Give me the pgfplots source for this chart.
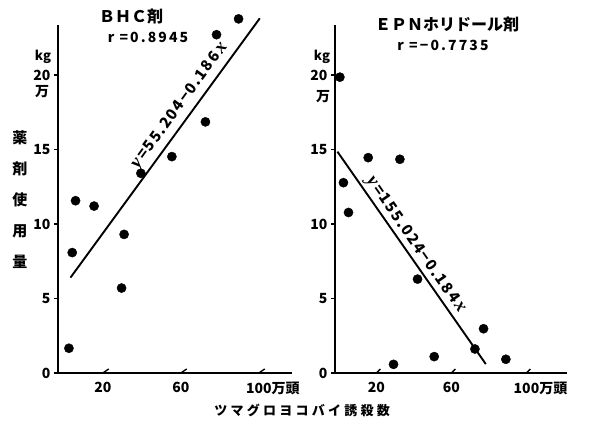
\documentclass[border=0pt]{standalone}
\usepackage{fontspec}
\setmainfont{Noto Sans CJK JP}
\newfontfamily\jpsp{Noto Sans CJK JP}[LetterSpace=25]
\newfontfamily\jpr{Noto Sans CJK JP}[LetterSpace=15]
\newfontfamily\jpl{Noto Sans CJK JP}[LetterSpace=10]
\newfontfamily\serit{Liberation Serif}
\newcommand{\vi}[1]{{\serit\bfseries\itshape\fontsize{19}{19}\selectfont #1}}
\usepackage{pgfplots}
\pgfplotsset{compat=1.18}

\pgfplotsset{
  panel/.style={
    scale only axis, anchor=south west, clip=false,
    axis x line=bottom, axis y line=left,
    axis line style={-, line width=2pt},
    ymin=0, ymax=23.35, height=348pt,
    xtick={20,60,100}, xticklabels={20,60,100\rlap{万頭}},
    ytick={0,5,10,15,20},
    tick align=outside, major tick length=4pt,
    tick style={line width=1.4pt, black},
    xtick style={draw=none},
    ticklabel style={font=\bfseries\fontsize{14}{14}\selectfont},
    x tick label style={yshift=-2pt},
    /pgf/number format/assume math mode=true,
  },
  dots/.style={only marks, mark=*, mark size=4.6pt, black},
  fit/.style={black, line width=1.9pt},
}
\tikzset{eq/.style={font=\jpl\bfseries\fontsize{15}{15}\selectfont, inner sep=0pt}}

\begin{document}
\begin{tikzpicture}
\path[use as bounding box] (0,0) rectangle (594pt,423pt);

% BHC
\begin{axis}[panel, at={(58pt,50pt)}, width=234pt, xmin=-3, xmax=117]
\addplot[dots] coordinates {
  (2.6,1.66) (4.3,8.08) (6.0,11.56) (15.5,11.2) (29.6,5.7) (30.9,9.3)
  (39.5,13.4) (55.4,14.52) (72.6,16.85) (78.3,22.7) (89.6,23.76)
};
\addplot[fit] coordinates {(3.4,6.4) (100.5,23.8)};
\draw[line width=1.4pt] (axis cs:20,0) -- ++(0,4pt);
\draw[line width=1.4pt] (axis cs:60,0) -- ++(0,4pt);
\draw[line width=1.4pt] (axis cs:100,0) -- ++(0,4pt);
\node[eq, rotate=53.9] at (axis cs:59.6,17.9) {\vi{y}\,=55.204−0.186\,\vi{x}};
\end{axis}

% EPN
\begin{axis}[panel, at={(335pt,50pt)}, width=232pt, xmin=-2.1, xmax=121.6]
\addplot[dots] coordinates {
  (0.5,19.85) (2.4,12.77) (5.1,10.77) (15.6,14.45) (29.1,0.58) (32.5,14.34)
  (41.9,6.3) (50.8,1.1) (72.5,1.61) (77.1,2.97) (89,0.92)
};
\addplot[fit] coordinates {(-0.8,14.85) (78.3,0.6)};
\draw[line width=1.4pt] (axis cs:20,0) -- ++(0,4pt);
\draw[line width=1.4pt] (axis cs:60,0) -- ++(0,4pt);
\draw[line width=1.4pt] (axis cs:100,0) -- ++(0,4pt);
\node[eq, rotate=-55.1] at (axis cs:40.8,8.6) {\vi{y}\,=155.024−0.184\,\vi{x}};
\end{axis}

% titles
\node[font=\bfseries\fontsize{16}{16}\selectfont] at (131pt,406pt) {ＢＨＣ剤};
\node[font=\jpr\bfseries\fontsize{14}{14}\selectfont] at (148pt,386pt) {r =0.8945};
\node[font=\bfseries\fontsize{16}{16}\selectfont] at (447pt,398pt) {ＥＰＮホリドール剤};
\node[font=\jpr\bfseries\fontsize{14}{14}\selectfont] at (443pt,378pt) {r =−0.7735};

% units
\node[font=\bfseries\fontsize{13}{13}\selectfont] at (43pt,366pt) {kg};
\node[font=\bfseries\fontsize{14}{14}\selectfont] at (42pt,331pt) {万};
\node[font=\bfseries\fontsize{13}{13}\selectfont] at (322pt,366pt) {kg};
\node[font=\bfseries\fontsize{14}{14}\selectfont] at (323pt,326pt) {万};

% y label
\foreach \c [count=\i from 0] in {薬,剤,使,用,量} {
  \node[font=\bfseries\fontsize{15}{15}\selectfont] at (20pt,{285pt-31pt*\i}) {\c};
}

% x label
\node[font=\jpsp\bfseries\fontsize{13}{13}\selectfont] at (302pt,13pt) {ツマグロヨコバイ誘殺数};
\end{tikzpicture}
\end{document}
